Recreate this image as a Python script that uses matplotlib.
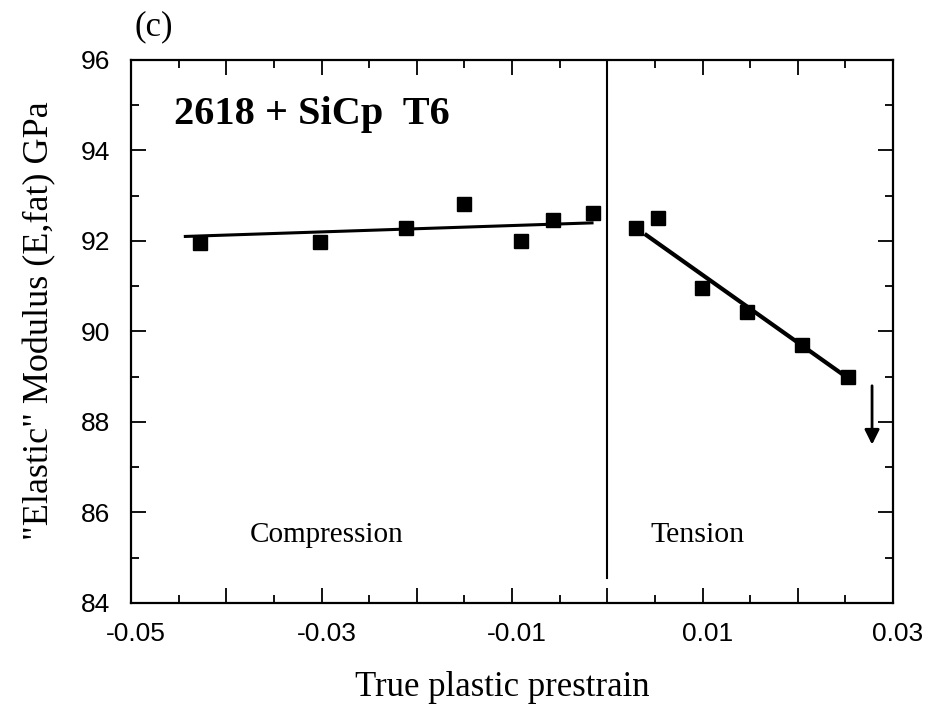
import matplotlib
matplotlib.use("Agg")
import matplotlib.pyplot as plt
from matplotlib.ticker import FixedLocator, MultipleLocator, FuncFormatter
from matplotlib.transforms import ScaledTranslation

# compression branch (measured points)
comp_strain = [-0.0428, -0.0302, -0.0211, -0.0150, -0.0091, -0.0057, -0.0015]
comp_modulus = [91.96, 91.98, 92.29, 92.82, 92.00, 92.47, 92.62]
# tension branch (measured points)
tens_strain = [0.0030, 0.0053, 0.0099, 0.0147, 0.0204, 0.0253]
tens_modulus = [92.29, 92.51, 90.96, 90.42, 89.71, 89.00]
# fitted lines (end points as drawn)
comp_fit_x = [-0.0443, -0.0016]
comp_fit_y = [92.10, 92.40]
tens_fit_x = [0.0041, 0.0252]
tens_fit_y = [92.13, 88.98]
# arrow at failure
arrow_x = 0.0278
arrow_y = [88.80, 87.50]

xticks = [-0.05, -0.04, -0.03, -0.02, -0.01, 0.0, 0.01, 0.02, 0.03]
xlabels = {-0.05: "-0.05", -0.03: "-0.03", -0.01: "-0.01", 0.01: "0.01", 0.03: "0.03"}

serif = "Liberation Serif"
sans = "Liberation Sans"

fig = plt.figure(figsize=(9.4, 7.14), dpi=100)
ax = fig.add_axes([0.1394, 0.1555, 0.8106, 0.7605])

ax.plot(comp_strain, comp_modulus, "s", color="black", markersize=9.5)
ax.plot(tens_strain, tens_modulus, "s", color="black", markersize=9.5)
ax.plot(comp_fit_x, comp_fit_y, color="black", lw=2.2)
ax.plot(tens_fit_x, tens_fit_y, color="black", lw=3.0)

ax.annotate("", xy=(arrow_x, arrow_y[1]), xytext=(arrow_x, arrow_y[0]),
            arrowprops=dict(arrowstyle="-|>", color="black", lw=2,
                            mutation_scale=22, shrinkA=0, shrinkB=0))

# compression / tension divider
ax.plot([0, 0], [84.55, 96], color="black", lw=1.5)

ax.set_xlim(-0.05, 0.03)
ax.set_ylim(84, 96)

ax.xaxis.set_major_locator(FixedLocator(xticks))
ax.xaxis.set_minor_locator(MultipleLocator(0.005))
ax.xaxis.set_major_formatter(FuncFormatter(
    lambda v, p: xlabels.get(round(v, 2), "")))
ax.yaxis.set_major_locator(MultipleLocator(2))
ax.yaxis.set_minor_locator(MultipleLocator(1))

ax.tick_params(which="both", direction="in", top=True, right=True, width=1.3)
ax.tick_params(which="major", length=11)
ax.tick_params(which="minor", length=6)
ax.tick_params(axis="x", which="major", pad=14)
ax.tick_params(axis="y", which="major", pad=15)
shift = ScaledTranslation(0.05, 0, fig.dpi_scale_trans)
for lab in ax.get_xticklabels():
    lab.set_fontfamily(sans)
    lab.set_fontsize(19)
    lab.set_transform(lab.get_transform() + shift)
for lab in ax.get_yticklabels():
    lab.set_fontfamily(sans)
    lab.set_fontsize(19)

for s in ax.spines.values():
    s.set_linewidth(1.6)

ax.set_xlabel("True plastic prestrain", fontfamily=serif, fontsize=25)
ax.xaxis.set_label_coords(0.487, -0.125)
ax.set_ylabel('"Elastic" Modulus (E,fat) GPa', fontfamily=serif, fontsize=26)
ax.yaxis.set_label_coords(-0.098, 0.52)

ax.text(-0.0455, 94.8, "2618 + SiCp  T6", fontfamily=serif, fontweight="bold",
        fontsize=29, va="center", ha="left")
ax.text(-0.0295, 85.5, "Compression", fontfamily=serif, fontsize=21,
        ha="center", va="center")
ax.text(0.0095, 85.5, "Tension", fontfamily=serif, fontsize=21.5,
        ha="center", va="center")
fig.text(0.143, 0.962, "(c)", fontfamily=serif, fontsize=25,
         ha="left", va="center")

fig.savefig("out.png", dpi=100)
